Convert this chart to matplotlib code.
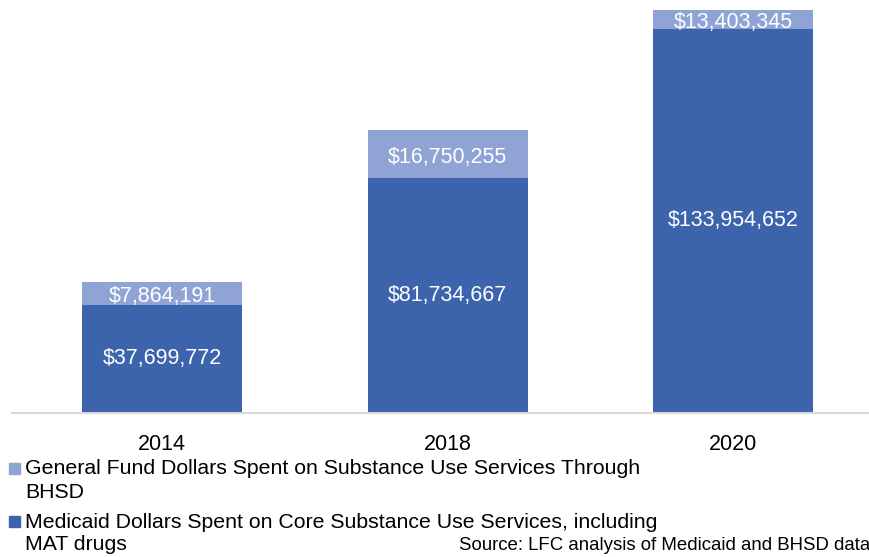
import matplotlib.pyplot as plt
from matplotlib.patches import Rectangle

years = ["2014", "2018", "2020"]
medicaid = [37699772, 81734667, 133954652]
general_fund = [7864191, 16750255, 13403345]

dark_blue = "#3C64AC"
light_blue = "#8FA3D5"

plt.rcParams['font.family'] = ['Liberation Sans', 'DejaVu Sans']

W, H = 870, 557
fig = plt.figure(figsize=(8.7, 5.57), dpi=100)
ax = fig.add_axes([12 / W, 1 - 413 / H, 1 - 12 / W, 403 / H])

x = list(range(len(years)))
width = 0.56
ymax = 140.4e6

ax.bar(x, medicaid, width, color=dark_blue)
ax.bar(x, general_fund, width, bottom=medicaid, color=light_blue)

ax.set_xlim(-0.525, 2.478)
ax.set_ylim(0, ymax)

# labels, centered on the visible part of each segment
for i in x:
    m = medicaid[i]
    g = general_fund[i]
    ax.text(i, m / 2, "${:,}".format(m), ha='center', va='center',
            color='white', fontsize=15.5)
    top = min(m + g, ymax)
    ax.text(i, (m + top) / 2 - 1.2e6, "${:,}".format(g), ha='center', va='center',
            color='white', fontsize=15.5)

ax.set_xticks(x)
ax.set_xticklabels(years, fontsize=15.5)
ax.tick_params(axis='x', length=0, pad=15)
ax.set_yticks([])
for side in ['left', 'right', 'top']:
    ax.spines[side].set_visible(False)
ax.spines['bottom'].set_color('#D9D9D9')
ax.spines['bottom'].set_linewidth(1.5)

# legend drawn by hand so the square sits on the first line
legend_rows = [
    (light_blue, ["General Fund Dollars Spent on Substance Use Services Through", "BHSD"], 469),
    (dark_blue, ["Medicaid Dollars Spent on Core Substance Use Services, including", "MAT drugs"], 522),
]
for color, lines, ypix in legend_rows:
    fig.patches.append(Rectangle((9 / W, 1 - (ypix + 5) / H), 11 / W, 11 / H,
                                 transform=fig.transFigure, color=color))
    for k, line in enumerate(lines):
        fig.text(25 / W, 1 - (ypix + 23 * k) / H, line, ha='left', va='center',
                 fontsize=15.3)

fig.text(1.0, 1 - 546 / H, "Source: LFC analysis of Medicaid and BHSD data",
         ha='right', va='center', fontsize=13.4)

fig.savefig("out.png", dpi=100)
